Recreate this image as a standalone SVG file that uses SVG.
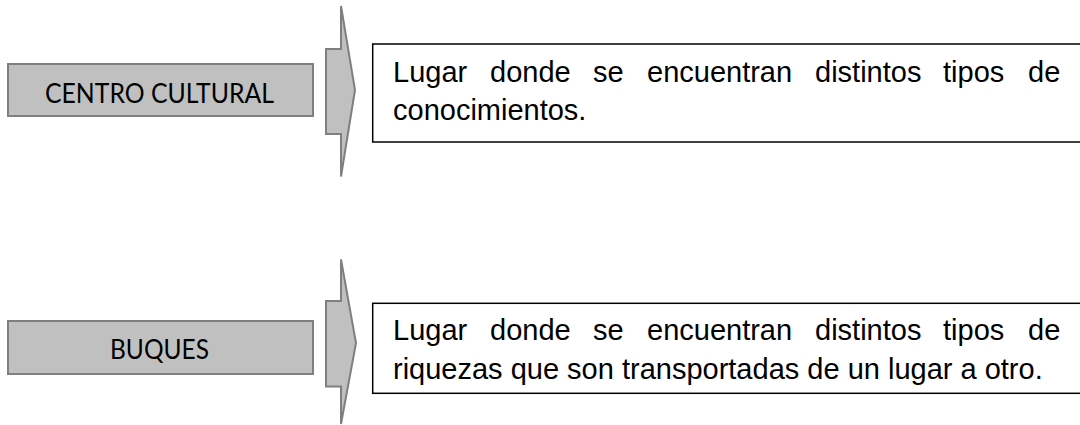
<svg xmlns="http://www.w3.org/2000/svg" width="1080" height="425" viewBox="0 0 1080 425">
<style>
.term{fill:#c0c0c0;stroke:#7f7f7f;stroke-width:2}
.arrow{fill:#c0c0c0;stroke:#7f7f7f;stroke-width:2;stroke-linejoin:miter}
.def{fill:#ffffff;stroke:#000000;stroke-width:1.5}
.lbl{font-family:Lato,"Liberation Sans",sans-serif;font-size:26px;fill:#000000}
.body{font-family:"Liberation Sans",Arial,sans-serif;font-size:29px;fill:#000000}
</style>
<defs>
<clipPath id="clip2"><rect x="372" y="303" width="720" height="83"/></clipPath>
</defs>
<rect width="1080" height="425" fill="#ffffff"/>
<g id="node-centro">
<rect class="term" x="8" y="64" width="305" height="52"/>
<text class="lbl" x="45" y="102.7" textLength="229" lengthAdjust="spacingAndGlyphs">CENTRO CULTURAL</text>
</g>
<g id="node-buques">
<rect class="term" x="8" y="321" width="305" height="53"/>
<text class="lbl" x="110" y="359.3" textLength="99" lengthAdjust="spacingAndGlyphs">BUQUES</text>
</g>
<g id="connectors">
<polygon class="arrow" points="326,49 341,49 341,6 355,90 341,176.5 341,134 326,134"/>
<polygon class="arrow" points="326,301 341,301 341,259.5 356,343 341,424 341,386.5 326,386.5"/>
</g>
<g id="def-centro">
<rect class="def" x="372.7" y="44" width="720" height="98"/>
<text class="body" y="81.7"><tspan x="393">Lugar</tspan><tspan x="490">donde</tspan><tspan x="593">se</tspan><tspan x="647">encuentran</tspan><tspan x="815">distintos</tspan><tspan x="943">tipos</tspan><tspan x="1028">de</tspan></text>
<text class="body" x="393" y="120">conocimientos.</text>
</g>
<g id="def-buques">
<rect class="def" x="372.7" y="303.3" width="720" height="90"/>
<g clip-path="url(#clip2)">
<text class="body" y="340"><tspan x="393">Lugar</tspan><tspan x="490">donde</tspan><tspan x="593">se</tspan><tspan x="647">encuentran</tspan><tspan x="815">distintos</tspan><tspan x="943">tipos</tspan><tspan x="1028">de</tspan></text>
<text class="body" x="393" y="379">riquezas que son transportadas de un lugar a otro.</text>
</g>
</g>
</svg>
